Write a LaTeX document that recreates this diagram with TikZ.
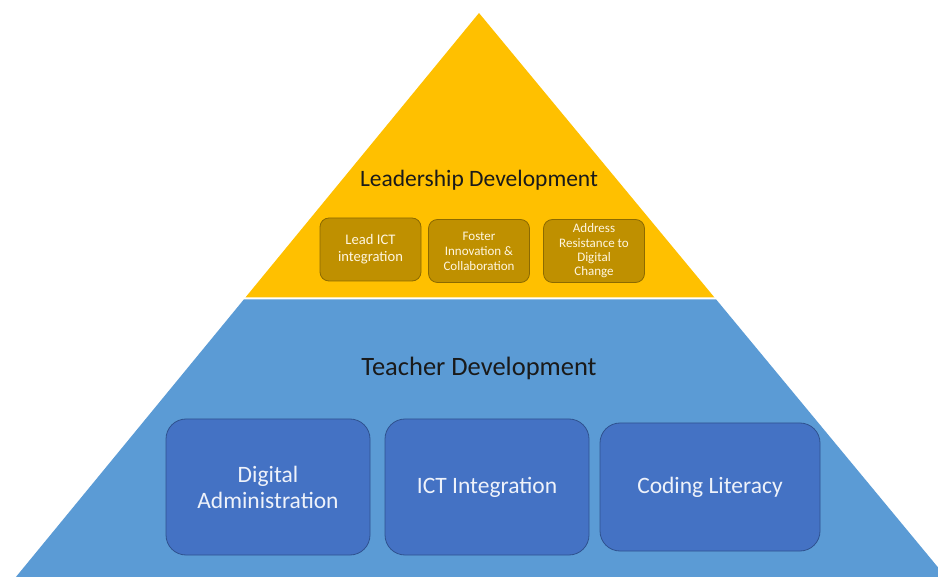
\documentclass[tikz,border=0pt]{standalone}
\usepackage{fontspec}
\setmainfont{Carlito}
\definecolor{gold}{HTML}{FFC000}
\definecolor{golddark}{HTML}{BF9000}
\definecolor{goldedge}{HTML}{8C6A00}
\definecolor{skyblue}{HTML}{5B9BD5}
\definecolor{boxblue}{HTML}{4472C4}
\definecolor{boxedge}{HTML}{2F528F}
\definecolor{titletext}{HTML}{1A1A1A}
\definecolor{lighttext}{HTML}{EEF2FA}
\definecolor{creamtext}{HTML}{FFF6E0}
\tikzset{
  smallbox/.style={draw=goldedge, line width=0.8pt, fill=golddark, rounded corners=9pt,
    minimum width=101pt, minimum height=63pt, align=center, text=creamtext, inner sep=1pt},
  bigbox/.style={draw=boxedge, line width=0.8pt, fill=boxblue, rounded corners=20pt,
    align=center, text=lighttext, inner sep=2pt},
  title/.style={text=titletext, inner sep=0pt}
}
\begin{document}
\begin{tikzpicture}[x=1pt,y=-1pt]
\useasboundingbox (0,0) rectangle (938,577);
\clip (0,0) rectangle (938,577);
% pyramid layers
\fill[gold] (479,13) -- (714.5,297.5) -- (245.4,297.5) -- cycle;
\fill[skyblue] (243.8,299.5) -- (716.2,299.5) -- (946,577) -- (15.9,577) -- cycle;
% titles
\node[title, font=\fontsize{23.5}{26}\selectfont] (lead) at (479,180) {Leadership Development};
\node[title, font=\fontsize{26.5}{30}\selectfont] (teach) at (479,368.5) {Teacher Development};
% leadership boxes
\node[smallbox, font=\fontsize{14.6}{17}\selectfont] (l1) at (370.5,249.5) {Lead ICT\\integration};
\node[smallbox, font=\fontsize{13}{15}\selectfont] (l2) at (479,251) {Foster\\Innovation \&\\Collaboration};
\node[smallbox, font=\fontsize{13}{14.4}\selectfont] (l3) at (594,251) {Address\\Resistance to\\Digital\\Change};
% teacher boxes
\node[bigbox, minimum width=204pt, minimum height=136pt, font=\fontsize{23.5}{26}\selectfont] (t1) at (268,487) {Digital\\Administration};
\node[bigbox, minimum width=204pt, minimum height=136pt, font=\fontsize{23.5}{26}\selectfont] (t2) at (487,487) {ICT Integration};
\node[bigbox, minimum width=220pt, minimum height=128pt, font=\fontsize{23.5}{26}\selectfont] (t3) at (710,487) {Coding Literacy};
\end{tikzpicture}
\end{document}
